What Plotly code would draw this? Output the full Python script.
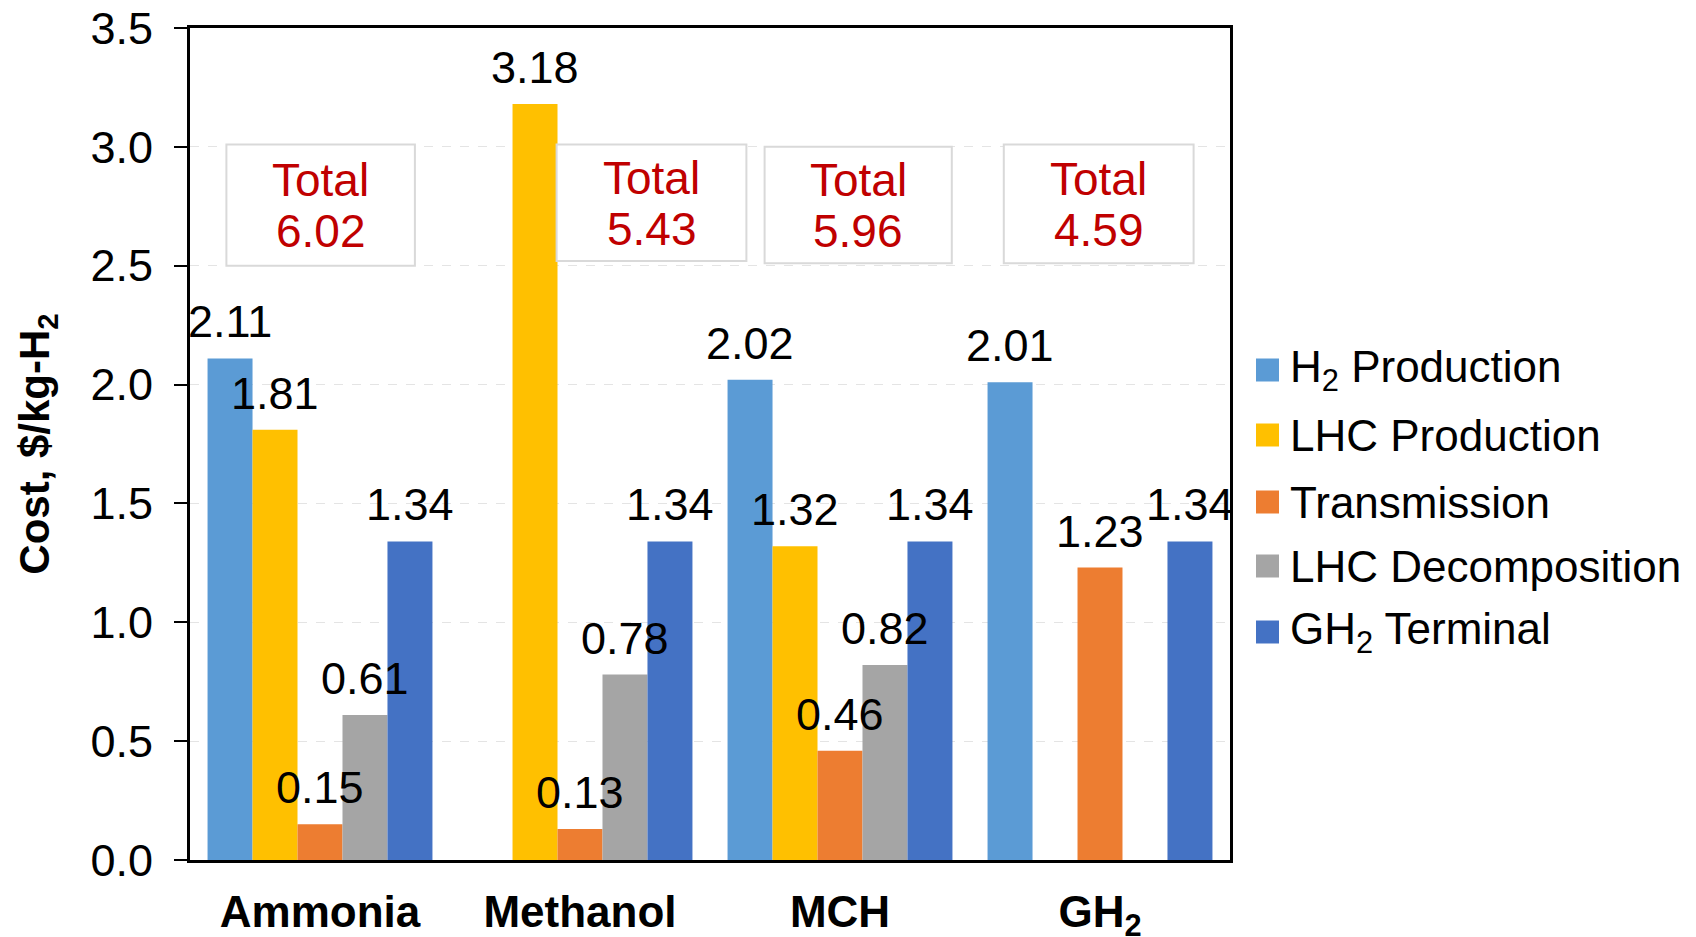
import plotly.graph_objects as go

# ---- data -------------------------------------------------------------
categories = ["Ammonia", "Methanol", "MCH", "GH<sub>2</sub>"]

series_names = [
    "H<sub>2</sub> Production",
    "LHC Production",
    "Transmission",
    "LHC Decomposition",
    "GH<sub>2</sub> Terminal",
]
h2_production = [2.11, None, 2.02, 2.01]
lhc_production = [1.81, 3.18, 1.32, None]
transmission = [0.15, 0.13, 0.46, 1.23]
lhc_decomposition = [0.61, 0.78, 0.82, None]
gh2_terminal = [1.34, 1.34, 1.34, 1.34]

totals = [6.02, 5.43, 5.96, 4.59]

y_tick_values = [0.0, 0.5, 1.0, 1.5, 2.0, 2.5, 3.0, 3.5]

series_colors = ["#5B9BD5", "#FFC000", "#ED7D31", "#A5A5A5", "#4472C4"]

# ---- figure geometry (pixels) ----------------------------------------
W, H = 1696, 937
PLOT_L, PLOT_R, PLOT_T, PLOT_B = 190, 1230, 28, 860
BARGAP = 0.135
FONT = "Liberation Sans, Arial, Helvetica, sans-serif"


def px_x(px):
    return (px - PLOT_L) / (PLOT_R - PLOT_L)


def px_y(py):
    return (PLOT_B - py) / (PLOT_B - PLOT_T)


series_values = [h2_production, lhc_production, transmission,
                 lhc_decomposition, gh2_terminal]
n_series = len(series_values)

fig = go.Figure()
for name, values, color in zip(series_names, series_values, series_colors):
    fig.add_trace(go.Bar(
        name=name,
        x=categories,
        y=values,
        marker=dict(color=color, line=dict(width=0)),
        showlegend=False,
    ))

# ---- value labels above each bar (kept on top of neighbouring bars) ----
category_px = (PLOT_R - PLOT_L) / len(categories)
slot_px = category_px * (1 - BARGAP) / n_series
for i, values in enumerate(series_values):
    for cat, v in zip(categories, values):
        if v is None:
            continue
        fig.add_annotation(
            x=cat, y=v, xref="x", yref="y",
            text=f"{v:.2f}", showarrow=False,
            xanchor="center", yanchor="bottom",
            xshift=(i - (n_series - 1) / 2) * slot_px, yshift=9,
            font=dict(family=FONT, size=45, color="black"),
        )

# ---- "Total" boxes over each group -------------------------------------
total_box_spans = [(-0.36, 0.365, 2.50, 3.01),
                   (0.91, 1.64, 2.52, 3.01),
                   (1.71, 2.43, 2.51, 3.00),
                   (2.63, 3.36, 2.51, 3.01)]
for (x0, x1, y0, y1), total in zip(total_box_spans, totals):
    fig.add_shape(type="rect", xref="x", yref="y",
                  x0=x0, x1=x1, y0=y0, y1=y1,
                  line=dict(color="#D9D9D9", width=2),
                  fillcolor="white", layer="above")
    yc = (y0 + y1) / 2
    for line_text, dy in (("Total", 0.105), (f"{total:.2f}", -0.11)):
        fig.add_annotation(x=(x0 + x1) / 2, y=yc + dy, xref="x", yref="y",
                           text=line_text, showarrow=False,
                           xanchor="center", yanchor="middle",
                           font=dict(family=FONT, size=46, color="#C00000"))

# ---- legend drawn at the right of the plot ------------------------------
legend_rows_px = [370, 435, 502, 566, 632]
for name, color, row in zip(series_names, series_colors, legend_rows_px):
    fig.add_shape(type="rect", xref="paper", yref="paper",
                  x0=px_x(1256), x1=px_x(1279),
                  y0=px_y(row + 11.5), y1=px_y(row - 11.5),
                  line=dict(width=0), fillcolor=color)
    fig.add_annotation(x=px_x(1288), y=px_y(row), xref="paper", yref="paper",
                       text=name, showarrow=False, xanchor="left",
                       yanchor="middle",
                       font=dict(family=FONT, size=44, color="black"))

fig.update_layout(
    width=W, height=H,
    margin=dict(l=PLOT_L, r=W - PLOT_R, t=PLOT_T, b=H - PLOT_B, autoexpand=False),
    paper_bgcolor="white",
    plot_bgcolor="white",
    barmode="group",
    bargap=BARGAP,
    bargroupgap=0,
    showlegend=False,
    font=dict(family=FONT, color="black"),
)

fig.update_xaxes(
    type="category",
    range=[-0.5, 3.5],
    showline=True, linecolor="black", linewidth=3, mirror=True,
    ticks="", showgrid=False,
    tickfont=dict(family=FONT, size=44, color="black", weight="bold"),
    ticklabelstandoff=11,
    automargin=False,
)

fig.update_yaxes(
    range=[0, 3.5],
    tickvals=y_tick_values,
    ticktext=[f"{v:.1f}" for v in y_tick_values],
    showline=True, linecolor="black", linewidth=3, mirror=True,
    ticks="outside", ticklen=13, tickwidth=2, tickcolor="black",
    tickfont=dict(family=FONT, size=45, color="black"),
    ticklabelstandoff=12,
    showgrid=True, gridcolor="#E4E4E4", gridwidth=1, griddash="dash",
    zeroline=False,
    title=dict(text="Cost, $/kg-H<sub>2</sub>", standoff=28,
               font=dict(family=FONT, size=42, color="black", weight="bold")),
    automargin=False,
)

fig.write_html("out.html")
